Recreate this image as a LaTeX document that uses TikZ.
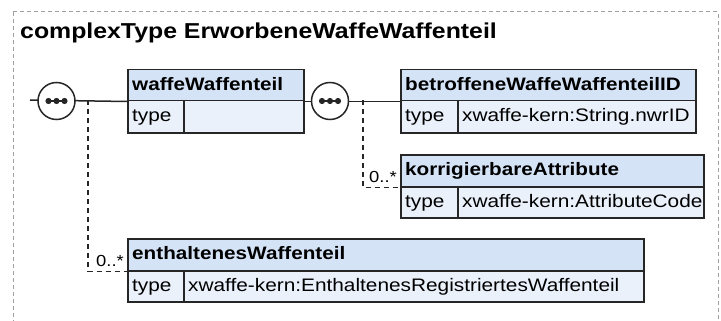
\documentclass[tikz,border=0pt]{standalone}
\usepackage{fontspec}
\setmainfont{Liberation Sans}[FakeStretch=1.15]
\definecolor{hdrfill}{HTML}{D5E3F7}
\definecolor{rowfill}{HTML}{EAF1FB}
\definecolor{boxline}{HTML}{262626}
\definecolor{frame}{HTML}{A0A0A0}
\newcommand\xsdbox[9]{%
  \pgfmathsetmacro\bw{#3-#2}\pgfmathsetmacro\hh{#5-#4}\pgfmathsetmacro\rh{#6-#5}%
  \pgfmathsetmacro\tw{#7-#2}\pgfmathsetmacro\vw{#3-#7}%
  \node[hdrbox, minimum width=\bw pt, minimum height=\hh pt] (#1h) at (#2,#4) {};
  \node[rowbox, minimum width=\tw pt, minimum height=\rh pt] (#1t) at (#2,#5) {};
  \node[rowbox, minimum width=\vw pt, minimum height=\rh pt] (#1v) at (#7,#5) {};
  \node[hdrtxt] (#1hl) at (#2+5,#4+21.5) {#8};
  \node[rowtxt] (#1tl) at (#2+5,#5+21.5) {type};
  \node[rowtxt] (#1vl) at (#7+5,#5+21.5) {#9};
}
\begin{document}
\begin{tikzpicture}[x=1pt,y=-1pt,
  hdrbox/.style={draw=boxline, fill=hdrfill, line width=1.5pt, anchor=north west, inner sep=0pt},
  rowbox/.style={draw=boxline, fill=rowfill, line width=1.5pt, anchor=north west, inner sep=0pt},
  hdrtxt/.style={anchor=base west, inner sep=0pt, font=\bfseries\fontsize{18}{22}\selectfont},
  rowtxt/.style={anchor=base west, inner sep=0pt, font=\fontsize{18.1}{22}\selectfont},
  mult/.style={anchor=base east, inner sep=0pt, font=\fontsize{16}{19}\selectfont},
  seqring/.style={draw=boxline, fill=white, line width=1.5pt},
  conn/.style={draw=boxline, line width=1.5pt},
  dconn/.style={draw=boxline, line width=1.5pt, dash pattern=on 5pt off 4pt},
]
\useasboundingbox (0,0) rectangle (721,321);
\draw[frame, line width=1pt, dash pattern=on 4pt off 3pt] (13,12) rectangle (718,345);
\node[anchor=base west, inner sep=0pt, font=\bfseries\fontsize{21.6}{25}\selectfont] (title) at (20,38.5) {complexType ErworbeneWaffeWaffenteil};

\xsdbox{b1}{127}{303}{69}{100}{132}{183}{waffeWaffenteil}{}
\xsdbox{b2}{400}{695}{69}{100}{132}{457}{betroffeneWaffeWaffenteilID}{xwaffe-kern:String.nwrID}
\xsdbox{b3}{400}{703}{154}{186}{217}{457}{korrigierbareAttribute}{xwaffe-kern:AttributeCode}
\xsdbox{b4}{127}{643}{238}{270}{301}{183}{enthaltenesWaffenteil}{xwaffe-kern:EnthaltenesRegistriertesWaffenteil}

\coordinate (start) at (30,100);
\coordinate (j1) at (88,100);
\coordinate (j2) at (363,100);
\coordinate (s1) at (56.5,101);
\coordinate (s2) at (330,101);

\draw[conn] (start) -- (b1h.south west);
\draw[conn] (b1h.south east) -- (b2h.south west);
\draw[dconn] (j1) |- (b4h.south west);
\draw[dconn] (j2) |- (b3h.south west);

\foreach \s in {s1,s2}{
  \draw[seqring] (\s) circle (18.5);
  \draw[boxline, line width=1.5pt] ([xshift=-8pt]\s) -- ([xshift=8pt]\s);
  \foreach \d in {-8,0,8} \fill[boxline] ([xshift=\d pt]\s) circle (3.1);
}

\node[mult] (m4) at (124,266.5) {0..*};
\node[mult] (m3) at (397,182.5) {0..*};
\end{tikzpicture}
\end{document}
